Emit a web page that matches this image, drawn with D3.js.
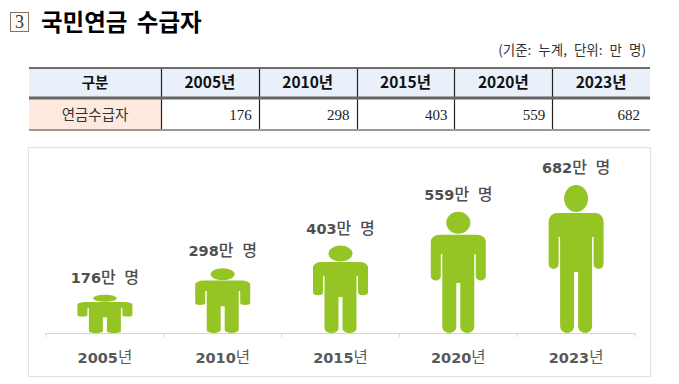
<!DOCTYPE html>
<html>
<head>
<meta charset="utf-8">
<script src="https://cdn.jsdelivr.net/npm/d3@7"></script>
<style>
  html, body { margin: 0; background: #fff; }
  svg { display: block; }
  .kr { font-family: "Noto Sans CJK KR", "Noto Sans", sans-serif; }
</style>
</head>
<body>
<div id="chart"></div>
<script>
// Data
const years = ["2005년", "2010년", "2015년", "2020년", "2023년"];
const values = [176, 298, 403, 559, 682];
const rowHead = "구분";
const rowLabel = "연금수급자";
const titleText = "국민연금 수급자";
const noteText = "(기준: 누계, 단위: 만 명)";

const width = 679, height = 384;

const svg = d3.select("#chart").append("svg")
  .attr("width", width)
  .attr("height", height);

// Title
svg.append("rect")
  .attr("x", 10.5).attr("y", 12.5).attr("width", 18).attr("height", 19)
  .attr("fill", "#fdfdf8").attr("stroke", "#8a6f66").attr("stroke-width", 1);
svg.append("text")
  .attr("x", 19.5).attr("y", 28)
  .attr("text-anchor", "middle")
  .style("font-family", "Liberation Serif")
  .style("font-size", "18px")
  .attr("fill", "#333")
  .text("3");
svg.append("text")
  .attr("class", "kr")
  .attr("x", 41).attr("y", 31)
  .style("font-size", "23.5px")
  .style("font-weight", 700)
  .style("word-spacing", "4px")
  .attr("fill", "#000")
  .text(titleText);
svg.append("text")
  .attr("class", "kr")
  .attr("x", 646).attr("y", 55)
  .attr("text-anchor", "end")
  .style("font-size", "13.5px")
  .style("word-spacing", "4px")
  .attr("fill", "#333")
  .text(noteText);

// Table
const table = svg.append("g");
const colX = d3.scaleBand().domain(years).range([161, 650]);
const tableLeft = 29, tableRight = 650;
const rowTop = 68, rowMid = 98, rowBottom = 130;

table.append("rect")
  .attr("x", tableLeft).attr("y", rowTop)
  .attr("width", tableRight - tableLeft).attr("height", rowMid - rowTop)
  .attr("fill", "#e9f0f9");
table.append("rect")
  .attr("x", tableLeft).attr("y", rowMid)
  .attr("width", colX.range()[0] - tableLeft).attr("height", rowBottom - rowMid)
  .attr("fill", "#fde9dd");

table.selectAll("line.col")
  .data(years)
  .join("line")
    .attr("class", "col")
    .attr("x1", d => Math.round(colX(d)) + 0.5)
    .attr("x2", d => Math.round(colX(d)) + 0.5)
    .attr("y1", rowTop).attr("y2", rowBottom)
    .attr("stroke", "#222").attr("stroke-width", 1.2);

[[rowTop, 2, "#6e6e6e"], [rowMid, 3, "#666"], [rowBottom, 2, "#999"]].forEach(([y, w, c]) => {
  table.append("line")
    .attr("x1", tableLeft).attr("x2", tableRight)
    .attr("y1", y).attr("y2", y)
    .attr("stroke", c).attr("stroke-width", w);
});

table.append("text")
  .attr("class", "kr")
  .attr("x", (tableLeft + colX.range()[0]) / 2).attr("y", 88)
  .attr("text-anchor", "middle")
  .style("font-size", "14.5px").style("font-weight", 700)
  .attr("fill", "#111")
  .text(rowHead);
table.append("text")
  .attr("class", "kr")
  .attr("x", (tableLeft + colX.range()[0]) / 2).attr("y", 120)
  .attr("text-anchor", "middle")
  .style("font-size", "14.5px")
  .attr("fill", "#333")
  .text(rowLabel);

table.selectAll("text.head")
  .data(years)
  .join("text")
    .attr("class", "head kr")
    .attr("x", d => colX(d) + colX.bandwidth() / 2)
    .attr("y", 88)
    .attr("text-anchor", "middle")
    .style("font-size", "15.5px").style("font-weight", 700)
    .attr("fill", "#111")
    .text(d => d);

table.selectAll("text.val")
  .data(values)
  .join("text")
    .attr("class", "val")
    .attr("x", (d, i) => colX(years[i]) + colX.bandwidth() - (i === 4 ? 10 : 7))
    .attr("y", 120)
    .attr("text-anchor", "end")
    .style("font-family", "Liberation Serif")
    .style("font-size", "15px")
    .attr("fill", "#222")
    .text(d => d);

// Picture panel
svg.append("rect")
  .attr("x", 28.5).attr("y", 147.5).attr("width", 622).attr("height", 229)
  .attr("fill", "#fff").attr("stroke", "#e2e2e2").attr("stroke-width", 1.2);

const x = d3.scaleBand().domain(years).range([46, 635]);
const y = d3.scaleLinear().domain([0, 682]).range([333, 185]);

const axis = svg.append("g")
  .attr("transform", `translate(0,${y(0)})`)
  .call(d3.axisBottom(x).tickSize(0).tickFormat(""));
axis.select(".domain").attr("stroke", "#d5d5d5");
axis.selectAll(".tick").remove();

axis.selectAll("line.sep")
  .data([...years.map(d => x(d)), x.range()[1]])
  .join("line")
    .attr("class", "sep")
    .attr("x1", d => d).attr("x2", d => d)
    .attr("y1", 0).attr("y2", 4)
    .attr("stroke", "#d5d5d5");

// Person figure, drawn full size then squashed to its value
const fullH = y(0) - y(682);
function bodyPath() {
  const p = d3.path();
  const top = 28, armEnd = 84, armIn = 52, crotch = 87;
  p.moveTo(-19, top);
  p.lineTo(19, top);
  p.arcTo(27.5, top, 27.5, top + 9, 8.5);
  p.lineTo(27.5, armEnd - 5);
  p.arcTo(27.5, armEnd, 22.5, armEnd, 5);
  p.arcTo(17.5, armEnd, 17.5, armEnd - 5, 5);
  p.lineTo(17.5, armIn);
  p.lineTo(16, armIn);
  p.lineTo(16, fullH - 7);
  p.arcTo(16, fullH, 9, fullH, 7);
  p.arcTo(2, fullH, 2, fullH - 7, 7);
  p.lineTo(2, crotch);
  p.lineTo(-2, crotch);
  p.lineTo(-2, fullH - 7);
  p.arcTo(-2, fullH, -9, fullH, 7);
  p.arcTo(-16, fullH, -16, fullH - 7, 7);
  p.lineTo(-16, armIn);
  p.lineTo(-17.5, armIn);
  p.lineTo(-17.5, armEnd - 5);
  p.arcTo(-17.5, armEnd, -22.5, armEnd, 5);
  p.arcTo(-27.5, armEnd, -27.5, armEnd - 5, 5);
  p.lineTo(-27.5, top + 9);
  p.arcTo(-27.5, top, -19, top, 8.5);
  p.closePath();
  return p.toString();
}

const people = svg.selectAll("g.person")
  .data(values)
  .join("g")
    .attr("class", "person")
    .attr("transform", (d, i) =>
      `translate(${x(years[i]) + x.bandwidth() / 2},${y(d)}) scale(1,${(y(0) - y(d)) / fullH})`);

people.append("ellipse")
  .attr("cx", 0).attr("cy", 13.5).attr("rx", 12).attr("ry", 13.5)
  .attr("fill", "#94c525");
people.append("path")
  .attr("d", bodyPath())
  .attr("fill", "#94c525");

// Value labels above the heads
const valueLabels = svg.selectAll("text.count")
  .data(values)
  .join("text")
    .attr("class", "count")
    .attr("x", (d, i) => x(years[i]) + x.bandwidth() / 2)
    .attr("y", d => y(d) - 12)
    .attr("text-anchor", "middle")
    .attr("fill", "#4f4f4f")
    .style("font-size", "16px");
valueLabels.append("tspan")
  .style("font-family", "DejaVu Sans").style("font-weight", 700)
  .style("font-size", "14.5px")
  .text(d => d);
valueLabels.append("tspan")
  .attr("class", "kr").style("font-weight", 500).style("word-spacing", "5px")
  .text("만 명");

// Year labels under the axis
const yearLabels = svg.selectAll("text.year")
  .data(years)
  .join("text")
    .attr("class", "year")
    .attr("x", d => x(d) + x.bandwidth() / 2)
    .attr("y", 363)
    .attr("text-anchor", "middle")
    .attr("fill", "#595959")
    .style("font-size", "15.5px");
yearLabels.append("tspan")
  .style("font-family", "DejaVu Sans").style("font-weight", 700)
  .style("font-size", "14.5px")
  .text(d => d.replace("년", ""));
yearLabels.append("tspan")
  .attr("class", "kr")
  .text("년");
</script>
</body>
</html>
